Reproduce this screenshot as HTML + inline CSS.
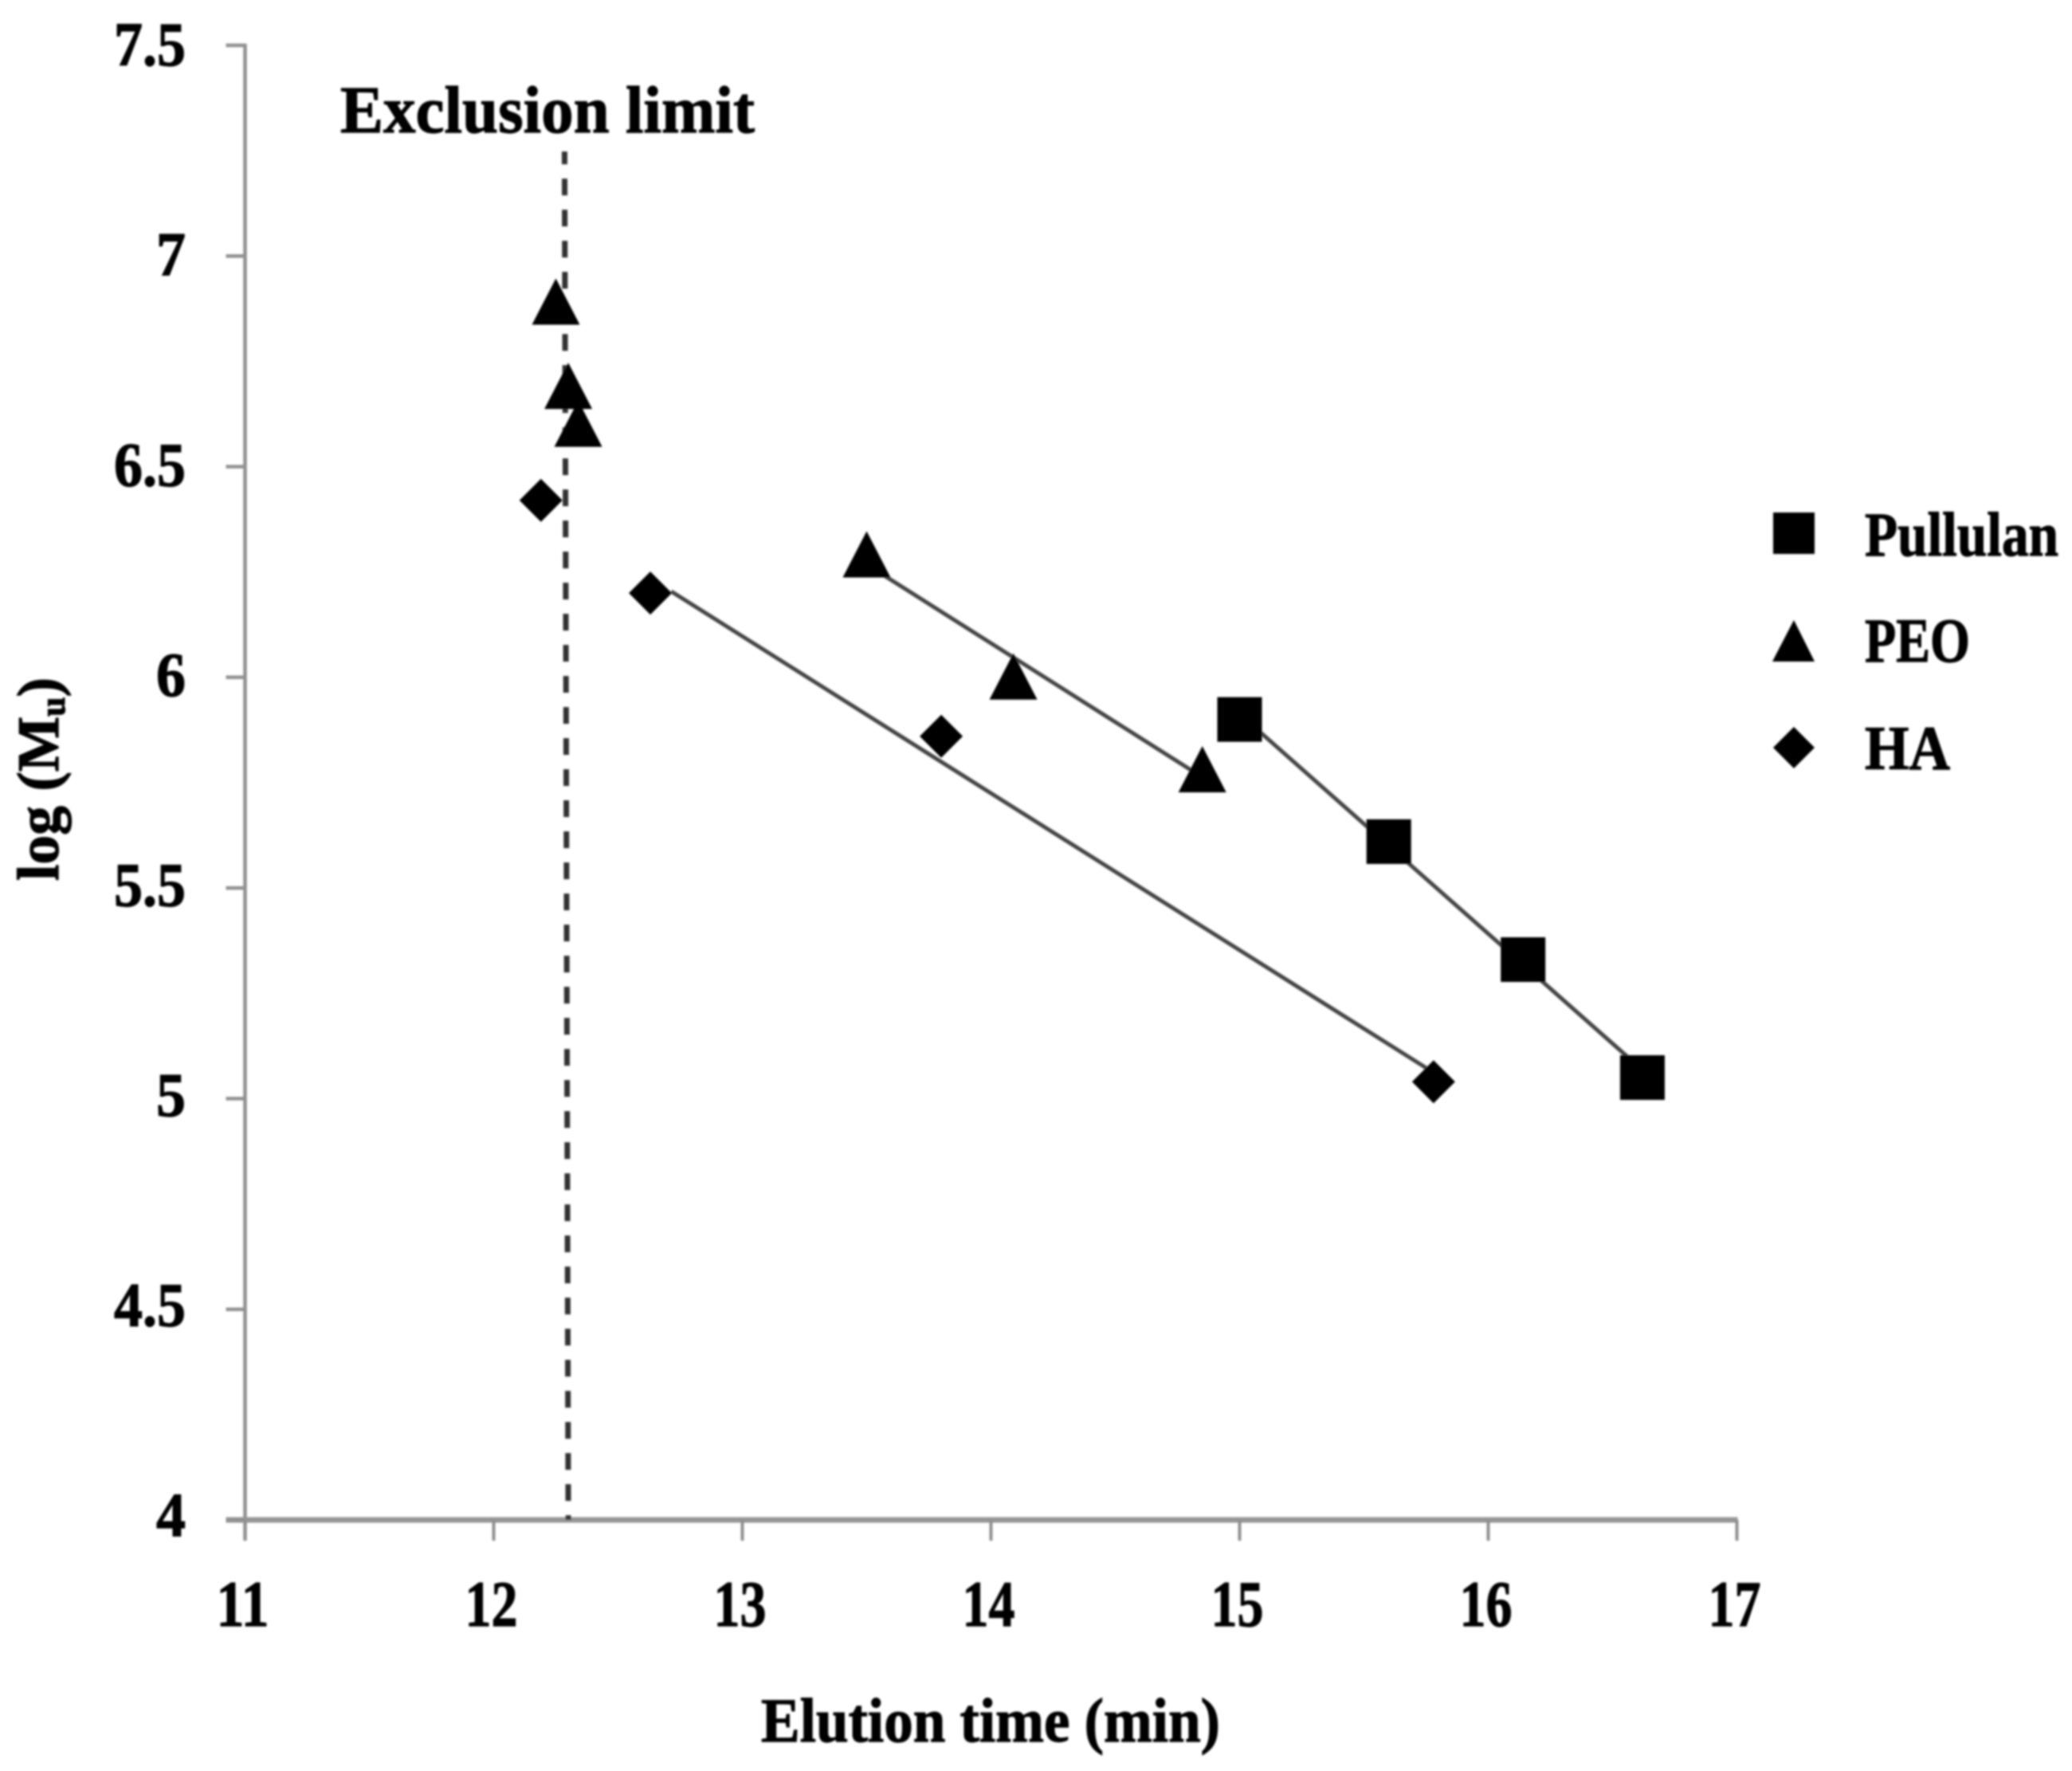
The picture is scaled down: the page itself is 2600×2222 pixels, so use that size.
<!DOCTYPE html>
<html lang="en">
<head>
<meta charset="utf-8">
<title>log(Mu) vs elution time</title>
<style>
html,body{margin:0;padding:0;background:#fff;}
svg{display:block;}
text{font-family:"Liberation Serif",serif;font-weight:bold;fill:#000;stroke:#000;stroke-width:1.2px;}
</style>
</head>
<body>
<svg id="chart" xmlns="http://www.w3.org/2000/svg" width="2600" height="2222" viewBox="0 0 2600 2222">
  <defs>
    <filter id="soft" x="-5%" y="-5%" width="110%" height="110%"><feGaussianBlur stdDeviation="1.2"/></filter>
  </defs>
  <rect width="2600" height="2222" fill="#fff"/>
  <g id="plot" filter="url(#soft)">
    <text x="427" y="166" font-size="84" textLength="520" lengthAdjust="spacingAndGlyphs">Exclusion limit</text>
    <text x="955" y="2185" font-size="78" textLength="576" lengthAdjust="spacingAndGlyphs">Elution time (min)</text>
    <text transform="translate(73,1105) rotate(-90)" font-size="74" textLength="255" lengthAdjust="spacingAndGlyphs">log (M<tspan font-size="44" dy="8">u</tspan><tspan dy="-8">)</tspan></text>
    <g>
      <rect x="2225" y="643" width="52" height="52" fill="#000"/>
      <text x="2340" y="697" font-size="78" textLength="243" lengthAdjust="spacingAndGlyphs">Pullulan</text>
      <polygon points="2251,778 2277,830 2224,830" fill="#000"/>
      <text x="2340" y="830" font-size="78" textLength="132" lengthAdjust="spacingAndGlyphs">PEO</text>
      <polygon points="2251,912 2277,938 2251,964 2225,938" fill="#000"/>
      <text x="2340" y="965" font-size="78" textLength="107" lengthAdjust="spacingAndGlyphs">HA</text>
    </g>
  </g>
</svg>
<script>
const xTicks = [11, 12, 13, 14, 15, 16, 17];
const yTicks = [4, 4.5, 5, 5.5, 6, 6.5, 7, 7.5];
const yTickLabels = ["4", "4.5", "5", "5.5", "6", "6.5", "7", "7.5"];
const pullulanX = [15.0, 15.6, 16.14, 16.62];
const pullulanY = [5.90, 5.61, 5.33, 5.05];
const peoX = [12.25, 12.3, 12.34, 13.5, 14.09, 14.85];
const peoY = [6.89, 6.69, 6.60, 6.29, 6.0, 5.78];
const haX = [12.19, 12.63, 13.8, 15.78];
const haY = [6.42, 6.20, 5.86, 5.04];
const pullulanFitX = [15.0, 16.62];
const pullulanFitY = [5.913, 5.068];
const peoFitX = [13.556, 14.855];
const peoFitY = [6.247, 5.761];
const haFitX = [12.714, 15.75];
const haFitY = [6.204, 5.073];
const exclusionX = [12.285, 12.3];
const exclusionY = [7.248, 4.0];

const NS = 'http://www.w3.org/2000/svg';
const plot = document.getElementById('plot');
function sx(v){ return 307.5 + (v - 11) * 312; }
function sy(v){ return 1907 - (v - 4) * 528.6; }
function add(tag, attrs){
  const el = document.createElementNS(NS, tag);
  for (const k in attrs) el.setAttribute(k, attrs[k]);
  plot.appendChild(el);
  return el;
}

// y axis
const yAxis = add('line', {x1: sx(11), x2: sx(11), y1: sy(7.5) - 2, y2: sy(4) + 26, stroke: '#8f8f8f', 'stroke-width': 4.5});


// x axis
const xAxis = add('line', {x1: sx(11) - 24, x2: sx(17) + 1, y1: sy(4), y2: sy(4), stroke: '#969696', 'stroke-width': 7});



yTicks.forEach(function(v, i){
  const t = add('line', {x1: sx(11) - 24, x2: sx(11), y1: sy(v), y2: sy(v), stroke: '#919191', 'stroke-width': 4.5});
  
  
  const l = add('text', {x: 233, y: sy(v) + 20 + (v - 4) * 1.5, 'font-size': 78, 'text-anchor': 'end', textLength: yTickLabels[i].length === 1 ? 37 : 90, lengthAdjust: 'spacingAndGlyphs'});
  
  
  l.textContent = yTickLabels[i];
});
xTicks.forEach(function(v){
  const t = add('line', {x1: sx(v), x2: sx(v), y1: sy(4), y2: sy(4) + 26, stroke: '#8f8f8f', 'stroke-width': 4});
  
  
  const l = add('text', {x: sx(v) - 3, y: 2040, 'font-size': 82, 'text-anchor': 'middle', textLength: 66, lengthAdjust: 'spacingAndGlyphs'});
  
  
  l.textContent = String(v);
});

// exclusion line
const excl = add('line', {x1: sx(exclusionX[0]), y1: sy(exclusionY[0]), x2: sx(exclusionX[1]), y2: sy(exclusionY[1]), stroke: '#333', 'stroke-width': 7, 'stroke-dasharray': '21 18', 'stroke-dashoffset': 5});



function polyPoints(xs, ys){
  return xs.map(function(x, i){ return sx(x) + ',' + sy(ys[i]); }).join(' ');
}
const pullLine = add('polyline', {points: polyPoints(pullulanFitX, pullulanFitY), fill: 'none', stroke: '#444', 'stroke-width': 5});


const peoLine = add('polyline', {points: polyPoints(peoFitX, peoFitY), fill: 'none', stroke: '#444', 'stroke-width': 5});


const haLine = add('polyline', {points: polyPoints(haFitX, haFitY), fill: 'none', stroke: '#444', 'stroke-width': 5});



pullulanX.forEach(function(x, i){
  const m = add('rect', {x: sx(x) - 28, y: sy(pullulanY[i]) - 28, width: 56, height: 56, fill: '#000'});
  
  
});
peoX.forEach(function(x, i){
  const cx = sx(x), cy = sy(peoY[i]);
  const m = add('polygon', {points: cx + ',' + (cy - 30) + ' ' + (cx + 30) + ',' + (cy + 28) + ' ' + (cx - 30) + ',' + (cy + 28), fill: '#000'});
  
  
});
haX.forEach(function(x, i){
  const cx = sx(x), cy = sy(haY[i]);
  const m = add('polygon', {points: cx + ',' + (cy - 27) + ' ' + (cx + 27) + ',' + cy + ' ' + cx + ',' + (cy + 27) + ' ' + (cx - 27) + ',' + cy, fill: '#000'});
  
  
});
</script>
</body>
</html>
